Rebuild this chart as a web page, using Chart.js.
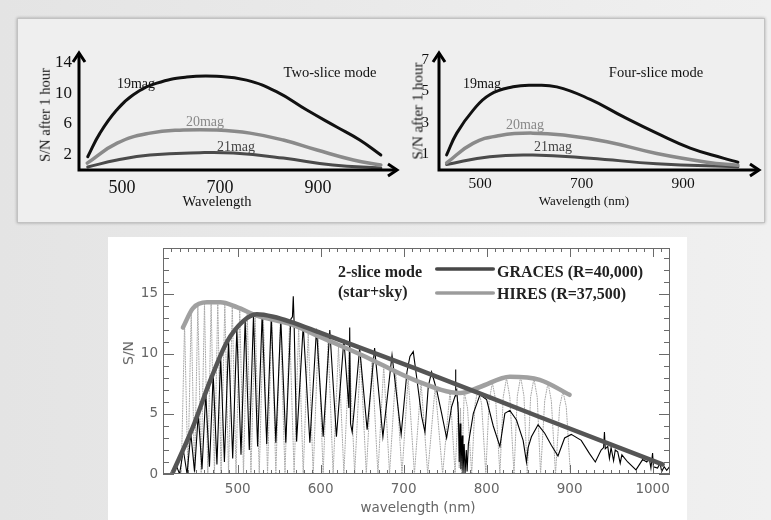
<!DOCTYPE html>
<html><head><meta charset="utf-8">
<script src="https://cdn.jsdelivr.net/npm/chart.js@4/dist/chart.umd.min.js"></script>
<style>
html,body{margin:0;padding:0;}
body{width:771px;height:520px;position:relative;overflow:hidden;background:linear-gradient(90deg,#e4e4e4 0%,#eaeaea 50%,#f0f0f0 100%);font-family:"Liberation Serif",serif;}
#box{position:absolute;left:17px;top:18px;width:746px;height:203px;background:#efefef;border:1px solid #c2c2c2;box-shadow:0 0 3px rgba(0,0,0,.3);}
#white{position:absolute;left:108px;top:237px;width:579px;height:283px;background:#fff;}
canvas{position:absolute;}
.t{position:absolute;white-space:nowrap;transform:translate(-50%,-50%);line-height:1;}
.l{position:absolute;white-space:nowrap;transform:translateY(-50%);line-height:1;}
.r{transform:translate(-50%,-50%) rotate(-90deg);}
.sw{position:absolute;width:60px;height:4px;border-radius:2px;}
</style>
</head><body>
<div id="box"></div>
<div id="white"></div>
<canvas id="c1" width="380" height="200" style="left:20px;top:20px"></canvas>
<canvas id="c2" width="370" height="200" style="left:400px;top:20px"></canvas>
<canvas id="c3" width="579" height="283" style="left:108px;top:237px"></canvas>

<div class="t" style="left:136px;top:84px;font-size:14px;color:#111">19mag</div>
<div class="t" style="left:205px;top:122px;font-size:14px;color:#888">20mag</div>
<div class="t" style="left:236px;top:147px;font-size:14px;color:#444">21mag</div>
<div class="t" style="left:330px;top:72px;font-size:14.5px;color:#111">Two-slice mode</div>
<div class="t" style="left:217px;top:201px;font-size:14.5px;color:#111">Wavelength</div>
<div class="t r" style="left:45px;top:115px;font-size:14.5px;color:#111">S/N after 1 hour</div>

<div class="t" style="left:482px;top:84px;font-size:14px;color:#111">19mag</div>
<div class="t" style="left:525px;top:125px;font-size:14px;color:#888">20mag</div>
<div class="t" style="left:553px;top:147px;font-size:14px;color:#444">21mag</div>
<div class="t" style="left:656px;top:72px;font-size:14.5px;color:#111">Four-slice mode</div>
<div class="t" style="left:584px;top:200px;font-size:13px;color:#111">Wavelength (nm)</div>
<div class="t r" style="left:418px;top:111px;font-size:15px;color:#111">S/N after 1 hour</div>

<div class="l" style="left:338px;top:272px;font-size:16px;font-weight:bold;color:#222">2-slice mode</div>
<div class="l" style="left:338px;top:292px;font-size:16px;font-weight:bold;color:#222">(star+sky)</div>
<div class="sw" style="left:435px;top:267px;background:linear-gradient(#888,#333,#888)"></div>
<div class="sw" style="left:435px;top:291px;background:linear-gradient(#c4c4c4,#8e8e8e,#c4c4c4)"></div>
<div class="l" style="left:497px;top:272px;font-size:16px;font-weight:bold;color:#222">GRACES (R=40,000)</div>
<div class="l" style="left:497px;top:294px;font-size:16px;font-weight:bold;color:#222">HIRES (R=37,500)</div>
<div class="t r" style="left:128px;top:353px;font-size:14px;color:#666;font-family:'DejaVu Sans',sans-serif">S/N</div>
<div class="t" style="left:418px;top:508px;font-size:13.5px;color:#666;font-family:'DejaVu Sans',sans-serif">wavelength (nm)</div>

<script>
// ---------- top panels data (wavelength nm, S/N after 1 hour) ----------
const topXTicks = [500, 700, 900];
const twoSliceYTicks = [2, 6, 10, 14];
const fourSliceYTicks = [1, 3, 5, 7];

const twoSlice19 = [[430,1.73],[455,4.8],[489,7.8],[523,9.8],[571,11.3],[632,12.1],[693,12.2],[754,11.7],[815,10.2],[877,7.8],[938,5.6],[985,3.9],[1028,1.95]];
const twoSlice20 = [[429,0.9],[490,3.5],[557,4.8],[625,5.2],[693,5.2],[761,4.8],[829,3.9],[898,2.6],[972,1.3],[1028,0.65]];
const twoSlice21 = [[430,0.4],[490,1.3],[557,1.95],[659,2.25],[727,2.2],[829,1.55],[930,0.65],[1028,0.25]];

const fourSlice19 = [[434,0.96],[454,2.35],[486,3.8],[519,4.8],[565,5.3],[604,5.4],[651,5.3],[717,4.5],[782,3.4],[848,2.35],[914,1.4],[979,0.76],[1008,0.5]];
const fourSlice20 = [[434,0.45],[486,1.7],[539,2.2],[604,2.35],[671,2.2],[750,1.8],[848,1.05],[947,0.5],[1008,0.3]];
const fourSlice21 = [[434,0.35],[519,0.85],[604,0.95],[717,0.75],[848,0.4],[1008,0.2]];

// ---------- bottom panel data ----------
const bottomXTicks = [500, 600, 700, 800, 900, 1000];
const bottomYTicks = [0, 5, 10, 15];

const gracesEnvelope = [[421,0],[446,3.9],[467,7.8],[487,11],[506,12.7],[523,13.3],[543,13.1],[563,12.7],[600,11.75],[714,8.8],[864,4.75],[1012,0.8]];
const hiresEnvelope = [[434,12.2],[446,13.8],[463,14.3],[479,14.3],[499,13.9],[523,13.2],[563,12.5],[600,11.4],[650,9.9],[714,7.8],[768,6.75],[792,7.25],[828,8.1],[864,7.85],[900,6.6]];

const gracesSpectrum = [[421,0],[425.5,0.8],[430,0],[434.5,2.0],[439,0],[443.5,3.4],[448,0.2],[452.5,5.0],[457,0.4],[461.5,6.7],[466,0.6],[470.5,8.3],[475,0.8],[479.5,9.8],[484,1.0],[489,11.1],[494,1.3],[499,12.1],[504,1.6],[509,12.8],[514,2.0],[519,13.1],[524,2.3],[529.5,13.3],[535,2.5],[540.5,13.1],[546,2.6],[552,12.9],[558,2.6],[564,12.9],[566,13.1],[567,14.8],[568,12.6],[571,2.7],[579,12.4],[587,2.6],[595,12.1],[603,3.1],[611,12.0],[619,3.1],[628,11.2],[634,5.5],[635,12.2],[636,4.2],[638,3.5],[647,10.5],[656,3.7],[665,10.5],[675,3.1],[686,9.9],[697,3.3],[704,8.5],[707.6,9.8],[711.6,10.2],[715.6,8.1],[721.7,4.8],[725.7,3.5],[729.7,7.3],[733.7,8.5],[739.8,7.0],[745.8,5.05],[751.8,3.0],[757.8,5.6],[762,6.5],[762.5,8.7],[763,6.8],[764,7.0],[766,5.0],[767,1.0],[768,4.2],[769,0.4],[770.5,3.2],[771.5,0],[773,2.5],[774,0],[775.5,2.0],[776.5,0.2],[778,2.5],[784,5.05],[792,6.6],[800,6.2],[808,4.0],[816,2.3],[822,5.05],[828,5.3],[836,4.5],[844,2.8],[848,1.0],[850,2.2],[854,3.1],[862,4.1],[870,3.4],[878,2.4],[886,1.5],[894,3.0],[902,3.3],[914,2.8],[924,1.7],[931,1.0],[938,2.0],[941,2.2],[942,3.5],[943,2.1],[946,2.3],[948,1.3],[950,2.2],[953,1.1],[955,2.0],[958,1.85],[961,0.9],[963,1.6],[970,1.0],[980,0.35],[988,1.2],[993,1.0],[996,1.3],[998,0.5],[1000,1.75],[1001,0.6],[1006,0.5],[1009,0.9],[1011,0.2],[1014,0.6],[1017,0.3],[1022,0.75]];

const hiresSpectrum = [[432,0],[436,12.5],[440,0],[444,13.5],[448,0],[452,14.0],[456,0],[460,14.25],[464,0],[468,14.35],[472,0],[476,14.35],[480,0],[484.5,14.2],[489,0],[493.5,14.0],[498,0],[502.5,13.8],[507,0],[511.5,13.55],[516,0],[521,13.25],[526,0],[531,13.05],[536,0],[541,12.9],[546,0],[551.5,12.75],[557,0],[562.5,12.5],[568,0],[573.5,12.2],[579,0],[585,11.8],[591,0],[597,11.4],[603,0],[609,11.0],[615,0],[621.5,10.6],[628,0],[634.5,10.25],[641,0],[648,9.85],[655,0],[662,9.4],[669,0],[676,9.0],[683,0],[690.5,8.5],[698,0],[705.5,8.05],[713,0],[721,7.65],[729,0],[738,7.3],[747,0],[756,6.95],[762,0],[766,6.0],[767,0.5],[768.5,5.5],[770,0],[773,6.85],[777,5.5],[782,0],[786,5.8],[790,7.2],[794,5.8],[799,0],[803,6.1],[807,7.6],[811,6.1],[816,0],[820,6.4],[824,8.0],[828,6.4],[833,0],[837,6.5],[841,8.1],[845,6.5],[849,0],[853,6.4],[857,7.95],[861,6.4],[865,0],[870,6.1],[874,7.6],[878,6.1],[883,0],[888,5.6],[892,6.9],[896,5.6],[901,0]];

const pts = a => a.map(([x, y]) => ({x, y}));
const fixTicks = arr => s => { s.ticks = arr.map(v => ({value: v})); };
const plain = v => String(v);

const arrowAxes = {
  id: 'arrowAxes',
  afterDatasetsDraw(chart) {
    const {ctx, chartArea: a} = chart;
    ctx.save();
    ctx.strokeStyle = '#000'; ctx.lineWidth = 3; ctx.lineJoin = 'miter';
    ctx.beginPath();
    ctx.moveTo(a.left, a.bottom + 1.5); ctx.lineTo(a.left, a.top + 1);
    ctx.moveTo(a.left - 1.5, a.bottom); ctx.lineTo(a.right - 1, a.bottom);
    ctx.stroke();
    ctx.beginPath();
    ctx.moveTo(a.left - 6, a.top + 10); ctx.lineTo(a.left, a.top + 1); ctx.lineTo(a.left + 6, a.top + 10);
    ctx.moveTo(a.right - 10, a.bottom - 6); ctx.lineTo(a.right - 1, a.bottom); ctx.lineTo(a.right - 10, a.bottom + 6);
    ctx.stroke();
    ctx.restore();
  }
};

const frameTicks = {
  id: 'frameTicks',
  afterDatasetsDraw(chart) {
    const {ctx, chartArea: a, scales: {x, y}} = chart;
    ctx.save();
    ctx.strokeStyle = '#6a6a6a'; ctx.lineWidth = 1;
    ctx.strokeRect(a.left + 0.5, a.top + 0.5, a.right - a.left - 1, a.bottom - a.top - 1);
    ctx.beginPath();
    for (let v = Math.ceil(x.min / 10) * 10; v <= x.max; v += 10) {
      const p = Math.round(x.getPixelForValue(v)) + 0.5;
      const L = bottomXTicks.includes(v) ? 9 : 4;
      ctx.moveTo(p, a.bottom); ctx.lineTo(p, a.bottom - L);
      ctx.moveTo(p, a.top); ctx.lineTo(p, a.top + L);
    }
    for (let v = 0; v <= y.max; v += 1) {
      const p = Math.round(y.getPixelForValue(v)) + 0.5;
      const L = bottomYTicks.includes(v) ? 11 : 6;
      ctx.moveTo(a.left, p); ctx.lineTo(a.left + L, p);
      ctx.moveTo(a.right, p); ctx.lineTo(a.right - L, p);
    }
    ctx.stroke();
    ctx.restore();
  }
};

function topChart(id, series, xmin, xmax, ymax, yTicks, yw, padRight, xFont, yFont, xPad, yPad) {
  return new Chart(document.getElementById(id), {
    type: 'line',
    data: {datasets: [
      {data: pts(series[0]), borderColor: '#111', borderWidth: 3},
      {data: pts(series[1]), borderColor: '#8a8a8a', borderWidth: 3.5},
      {data: pts(series[2]), borderColor: '#4a4a4a', borderWidth: 3}
    ]},
    options: {
      responsive: false, animation: false, devicePixelRatio: 1,
      layout: {padding: {left: 0, right: padRight, top: 32, bottom: 0}},
      elements: {point: {radius: 0}, line: {tension: 0.45, borderCapStyle: 'round'}},
      plugins: {legend: {display: false}, tooltip: {enabled: false}},
      scales: {
        x: {type: 'linear', min: xmin, max: xmax,
            grid: {display: false, drawTicks: false}, border: {display: false},
            afterBuildTicks: fixTicks(topXTicks),
            afterFit: s => { s.height = 50; s.paddingLeft = s.paddingRight = 0; },
            ticks: {padding: xPad, color: '#111', callback: plain, font: {family: 'Liberation Serif', size: xFont}}},
        y: {type: 'linear', min: 0, max: ymax,
            grid: {display: false, drawTicks: false}, border: {display: false},
            afterBuildTicks: fixTicks(yTicks),
            afterFit: s => { s.width = yw; s.paddingTop = s.paddingBottom = 0; },
            ticks: {padding: yPad, color: '#111', callback: plain, font: {family: 'Liberation Serif', size: yFont}}}
      }
    },
    plugins: [arrowAxes]
  });
}

topChart('c1', [twoSlice19, twoSlice20, twoSlice21], 412.2, 1063, 15.36, twoSliceYTicks, 59, 2, 18, 17, 7, 7);
topChart('c2', [fourSlice19, fourSlice20, fourSlice21], 419, 1051.5, 7.52, fourSliceYTicks, 39, 10, 15.5, 15, 5, 10);

new Chart(document.getElementById('c3'), {
  type: 'line',
  data: {datasets: [
    {label: 'GRACES (R=40,000)', data: pts(gracesEnvelope), borderColor: '#555', borderWidth: 4.5, cubicInterpolationMode: 'monotone'},
    {label: 'HIRES (R=37,500)', data: pts(hiresEnvelope), borderColor: '#a0a0a0', borderWidth: 4.5, cubicInterpolationMode: 'monotone'},
    {label: 'GRACES spectrum', data: pts(gracesSpectrum), borderColor: '#000', borderWidth: 1.1, tension: 0},
    {label: 'HIRES spectrum', data: pts(hiresSpectrum), borderColor: '#a8a8a8', borderWidth: 1, borderDash: [1, 1.5], tension: 0}
  ]},
  options: {
    responsive: false, animation: false, devicePixelRatio: 1,
    layout: {padding: {left: 0, right: 17, top: 11, bottom: 0}},
    elements: {point: {radius: 0}, line: {borderCapStyle: 'round'}},
    plugins: {legend: {display: false}, tooltip: {enabled: false}},
    scales: {
      x: {type: 'linear', min: 410, max: 1021,
          grid: {display: false, drawTicks: false}, border: {display: false},
          afterBuildTicks: fixTicks(bottomXTicks),
          afterFit: s => { s.height = 46; s.paddingLeft = s.paddingRight = 0; },
          ticks: {padding: 7, color: '#666', callback: plain, font: {family: 'DejaVu Sans', size: 13.5}}},
      y: {type: 'linear', min: 0, max: 18.83,
          grid: {display: false, drawTicks: false}, border: {display: false},
          afterBuildTicks: fixTicks(bottomYTicks),
          afterFit: s => { s.width = 55; s.paddingTop = s.paddingBottom = 0; },
          ticks: {padding: 5, color: '#666', callback: plain, font: {family: 'DejaVu Sans', size: 13.5}}}
    }
  },
  plugins: [frameTicks]
});
</script>
</body></html>
